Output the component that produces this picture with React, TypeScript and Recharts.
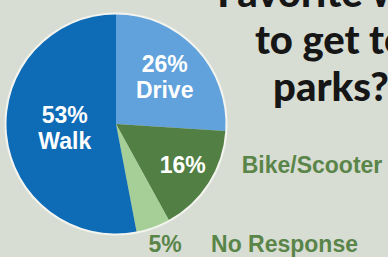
import { PieChart, Pie, Cell } from 'recharts';

// Survey answers, clockwise from 12 o'clock
const modes = ['Drive', 'Bike/Scooter', 'No Response', 'Walk'];
const shares = [26, 16, 5, 53];
const titleLines = ['Favorite way', 'to get to', 'parks?'];

const fills = ['#61a2dc', '#527f44', '#a5cf97', '#0e6cb7'];
// label spot along the middle of each slice, as a share of the radius
const labelRadius = [0.61, 0.7, 1.16, 0.47];
const nameInside = [true, false, false, true];
const labelNudge = [0, 2, 6, 0];
const nameGap = [0, 59, 46, 0];

const data = modes.map((m, i) => ({ name: m, value: shares[i] }));
const ring = [{ name: 'edge', value: 1 }];

const W = 388;
const H = 257;
const RAD = Math.PI / 180;
const labelFont = { fontFamily: 'Liberation Sans, Arial, sans-serif', fontWeight: 700, fontSize: 23 };
const green = '#5a8549';

const renderLabel = (props: any) => {
  const { cx, cy, midAngle, outerRadius, index, value, name } = props;
  const r = outerRadius * labelRadius[index];
  const x = cx + r * Math.cos(-midAngle * RAD) + labelNudge[index];
  const y = cy + r * Math.sin(-midAngle * RAD);
  if (nameInside[index]) {
    return (
      <text x={x} y={y} textAnchor="middle" fill="#ffffff" style={labelFont}>
        <tspan x={x} y={y - 6}>{value}%</tspan>
        <tspan x={x} y={y + 20}>{name}</tspan>
      </text>
    );
  }
  const outside = labelRadius[index] > 1;
  return (
    <g>
      <text x={x} y={y + 8} textAnchor="middle" fill={outside ? green : '#ffffff'} style={labelFont}>
        {value}%
      </text>
      <text x={x + nameGap[index]} y={y + 8} textAnchor="start" fill={green} style={labelFont}>
        {name}
      </text>
    </g>
  );
};

export default function App() {
  return (
    <div style={{ position: 'absolute', left: 0, top: 0, width: W, height: H, background: '#d8ddd4', overflow: 'hidden' }}>
      <PieChart width={W} height={H} margin={{ top: 0, right: 0, bottom: 0, left: 0 }}>
        <Pie
          data={ring}
          dataKey="value"
          cx={116}
          cy={124}
          innerRadius={109}
          outerRadius={111.5}
          startAngle={90}
          endAngle={-270}
          fill="#f3f4ef"
          stroke="none"
          isAnimationActive={false}
        />
        <Pie
          data={data}
          dataKey="value"
          nameKey="name"
          cx={116}
          cy={124}
          outerRadius={109.5}
          startAngle={90}
          endAngle={-270}
          stroke="none"
          labelLine={false}
          label={renderLabel}
          isAnimationActive={false}
        >
          {data.map((d, i) => (
            <Cell key={d.name} fill={fills[i]} />
          ))}
        </Pie>
      </PieChart>
      <svg width={W} height={H} style={{ position: 'absolute', left: 0, top: 0, pointerEvents: 'none' }}>
        {titleLines.map((t, i) => (
          <text
            key={t}
            x={331}
            y={7 + i * 47}
            textAnchor="middle"
            fill="#161616"
            style={{ fontFamily: 'Lato, sans-serif', fontWeight: 900, fontSize: 40 }}
          >
            {t}
          </text>
        ))}
      </svg>
    </div>
  );
}
